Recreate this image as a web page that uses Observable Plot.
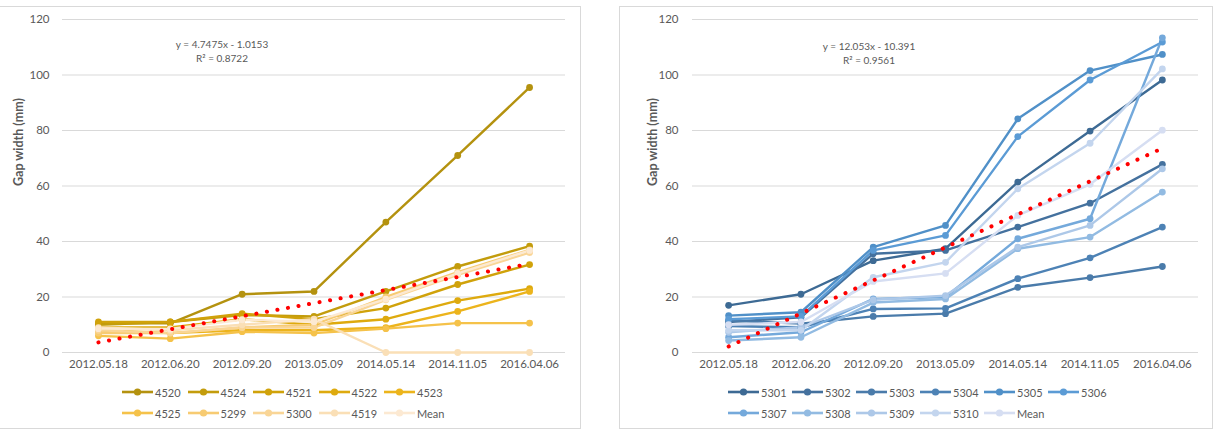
<!DOCTYPE html>
<html>
<head>
<meta charset="utf-8">
<script src="https://cdn.jsdelivr.net/npm/d3@7"></script>
<script src="https://cdn.jsdelivr.net/npm/@observablehq/plot@0.6"></script>
<style>
  html, body { margin: 0; padding: 0; background: #fff; width: 1219px; height: 430px; overflow: hidden; font-family: Lato, "Open Sans", sans-serif; }
  .panel { position: absolute; border: 1px solid #d9d9d9; background: #fff; }
  .chart { position: absolute; }
  .eq { position: absolute; color: #595959; font-size: 10px; text-align: center; line-height: 14px; transform: translateX(-50%); white-space: nowrap; }
  .leg { position: absolute; font-size: 11px; color: #595959; display: flex; align-items: center; white-space: nowrap; }
  .leg svg { margin-right: 2px; }
</style>
</head>
<body>
<div class="panel" style="left:-1px; top:6px; width:580px; height:421px;"></div>
<div class="panel" style="left:619px; top:6px; width:592px; height:421px;"></div>
<div id="left" class="chart" style="left:0px; top:0px;"></div>
<div id="right" class="chart" style="left:619px; top:0px;"></div>
<div id="legend"></div>
<div class="eq" style="left:222px; top:37px;">y = 4.7475x - 1.0153<br>R² = 0.8722</div>
<div class="eq" style="left:869px; top:39px;">y = 12.053x - 10.391<br>R² = 0.9561</div>
<script>
// ---- categories / ticks ----
const dates = ["2012.05.18", "2012.06.20", "2012.09.20", "2013.05.09", "2014.05.14", "2014.11.05", "2016.04.06"];
const yTicks = [0, 20, 40, 60, 80, 100, 120];

// ---- left chart series (gap width, mm) ----
const leftNames = ["4520", "4524", "4521", "4522", "4523", "4525", "5299", "5300", "4519", "Mean"];
const s4520 = [10.5, 10.5, 21, 22, 47, 71, 95.5];
const s4524 = [10, 11, 13.5, 13, 22, 31, 38.3];
const s4521 = [11, 11, 14, 12, 16, 24.5, 31.7];
const s4522 = [9, 9, 12, 10, 12, 18.7, 23];
const s4523 = [8, 7, 8, 8, 9, 14.8, 22];
const s4525 = [6, 5, 7.5, 7, 8.6, 10.6, 10.6];
const s5299 = [7, 7, 9, 10, 20, 29, 37];
const s5300 = [8, 7, 9, 9, 19, 28, 36];
const s4519 = [9, 8, 10, 12, 0, 0, 0];
const leftMean = [8.6, 8.5, 11.8, 11.1, 19.2, 28.5, 36.8];
const leftColors = ["#B4920F", "#C39C0C", "#D0A20A", "#DEAA0E", "#ECB41C", "#F5C24A", "#F7CB72", "#F9D596", "#FADFB6", "#FCE9D2"];

// ---- right chart series (gap width, mm) ----
const rightNames = ["5301", "5302", "5303", "5304", "5305", "5306", "5307", "5308", "5309", "5310", "Mean"];
const s5301 = [17, 21, 33.1, 37.4, 61.4, 79.8, 98.2];
const s5302 = [11, 12.7, 35.6, 36.8, 45.2, 53.8, 67.8];
const s5303 = [11.5, 10.4, 13, 14, 23.5, 27, 31];
const s5304 = [9.5, 9.1, 15.7, 15.9, 26.6, 34.1, 45.2];
const s5305 = [13.3, 14.5, 38, 45.8, 84.2, 101.6, 107.4];
const s5306 = [12, 13, 36.8, 42.2, 77.8, 98.2, 111.9];
const s5307 = [5.5, 7.3, 19.3, 20, 41, 48.2, 113.4];
const s5308 = [4.3, 5.5, 18, 19.3, 37.4, 41.6, 57.8];
const s5309 = [7.3, 9.1, 19, 20.5, 38, 45.8, 66.2];
const s5310 = [8, 8, 27.1, 32.5, 59, 75.4, 102.2];
const rightMean = [10, 11, 25.6, 28.5, 49.4, 60.6, 80.1];
const rightColors = ["#3D6A94", "#44719E", "#4A7BAA", "#4D82B5", "#5090C8", "#5B9BD5", "#74A9DB", "#92BBE2", "#ADC8E8", "#C3D5EE", "#D6DEF2"];

const leftSeries = [s4520, s4524, s4521, s4522, s4523, s4525, s5299, s5300, s4519, leftMean];
const rightSeries = [s5301, s5302, s5303, s5304, s5305, s5306, s5307, s5308, s5309, s5310, rightMean];

function toRows(names, series) {
  const rows = [];
  names.forEach((n, k) => series[k].forEach((v, i) => rows.push({name: n, i: i + 1, v})));
  return rows;
}

function makeChart({names, series, colors, width, marginLeft, marginRight, labelX, tickGap}) {
  const rows = toRows(names, series);
  const meanRows = rows.filter(d => d.name === "Mean");
  const idx = dates.map((d, i) => i + 1);
  const font = "Lato, 'Open Sans', sans-serif";
  return Plot.plot({
    width, height: 380,
    marginLeft, marginRight, marginTop: 19, marginBottom: 28,
    style: {background: "transparent", fontFamily: font, overflow: "visible"},
    x: {domain: [0.5, 7.5], axis: null},
    y: {domain: [0, 120], axis: null},
    color: {domain: names, range: colors},
    marks: [
      Plot.ruleY(yTicks, {stroke: "#d9d9d9", strokeWidth: 1}),
      Plot.text(yTicks, {y: d => d, text: d => String(d), frameAnchor: "left", dx: -tickGap, textAnchor: "end", fill: "#595959", fontSize: 11.5}),
      Plot.text(idx, {x: d => d, text: d => dates[d - 1], frameAnchor: "bottom", dy: 15, fill: "#595959", fontSize: 11.5}),
      Plot.text(["Gap width (mm)"], {frameAnchor: "left", dx: labelX, rotate: -90, fill: "#595959", fontSize: 12.5, fontWeight: "bold"}),
      Plot.line(rows, {x: "i", y: "v", z: "name", stroke: "name", strokeWidth: 2.4}),
      Plot.dot(rows, {x: "i", y: "v", fill: "name", r: 3.4}),
      Plot.linearRegressionY(meanRows, {x: "i", y: "v", ci: 0, stroke: "#FF0000", strokeWidth: 4, strokeDasharray: "0.1,10.6", strokeLinecap: "round"})
    ]
  });
}

document.getElementById("left").append(makeChart({
  names: leftNames, series: leftSeries, colors: leftColors,
  width: 580, marginLeft: 62, marginRight: 15, labelX: -44, tickGap: 13
}));
document.getElementById("right").append(makeChart({
  names: rightNames, series: rightSeries, colors: rightColors,
  width: 600, marginLeft: 73, marginRight: 21, labelX: -40, tickGap: 14
}));

// ---- legends ----
function legend(names, colors, x0, perRow, step, rowsY) {
  const host = document.getElementById("legend");
  names.forEach((n, k) => {
    const row = Math.floor(k / perRow), col = k % perRow;
    const el = document.createElement("div");
    el.className = "leg";
    el.style.left = (x0 + col * step) + "px";
    el.style.top = (rowsY[row] - 8) + "px";
    el.innerHTML = `<svg width="31" height="16"><line x1="0" x2="31" y1="8" y2="8" stroke="${colors[k]}" stroke-width="2.6"/><circle cx="15.5" cy="8" r="3.6" fill="${colors[k]}"/></svg><span>${n}</span>`;
    host.append(el);
  });
}
legend(leftNames, leftColors, 122, 5, 65.5, [392, 413]);
legend(rightNames, rightColors, 728, 6, 64, [392, 413]);
</script>
</body>
</html>
